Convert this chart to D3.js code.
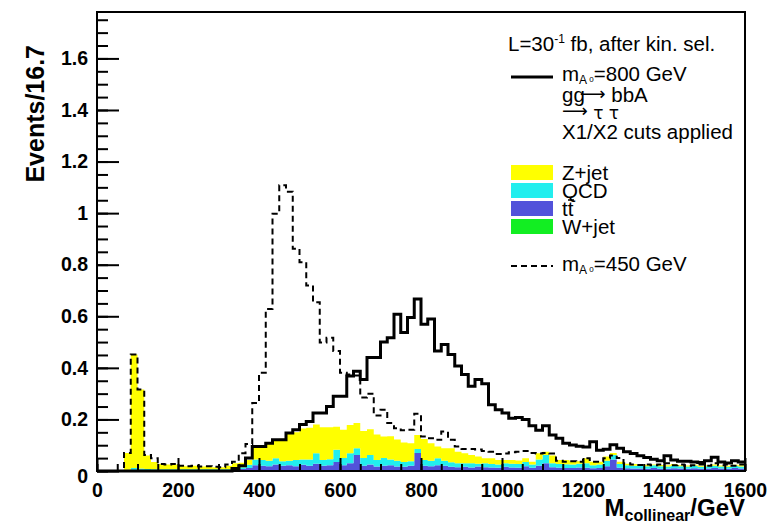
<!DOCTYPE html>
<html>
<head>
<meta charset="utf-8">
<script src="https://cdn.jsdelivr.net/npm/d3@7"></script>
<style>
  html, body { margin: 0; padding: 0; background: #fff; }
  svg { display: block; }
</style>
</head>
<body>
<svg id="chart" width="773" height="524"></svg>
<script>
// M_collinear distribution, 96 bins of 16.7 GeV from 0 to 1600 GeV.
const massMin = 0, massMax = 1600, nBins = 96;

// Signal m_A = 800 GeV (solid line)
const sigA800 = [
  0,0,0,0,0,0,0,0,0,0,
  0,0,0,0,0,0,0,0,0,0,
  0.01,0.02,0.05,0.095,0.095,0.108,0.121,0.121,0.147,0.16,
  0.18,0.192,0.225,0.225,0.25,0.29,0.29,0.368,0.387,0.355,
  0.44,0.44,0.50,0.517,0.608,0.537,0.595,0.667,0.569,0.589,
  0.465,0.491,0.452,0.407,0.374,0.329,0.355,0.338,0.257,0.238,
  0.225,0.205,0.207,0.20,0.175,0.158,0.175,0.14,0.127,0.108,
  0.101,0.096,0.093,0.113,0.08,0.084,0.102,0.088,0.075,0.068,
  0.059,0.052,0.046,0.04,0.059,0.043,0.038,0.038,0.035,0.033,
  0.04,0.053,0.035,0.031,0.04,0.035
];

// Signal m_A = 450 GeV (dashed line)
const sigA450 = [
  0,0,0,0,0.07,0.452,0.316,0.062,0.049,0.027,
  0.025,0.027,0.02,0.018,0.02,0.017,0.018,0.016,0.015,0.025,
  0.036,0.069,0.105,0.264,0.381,0.628,0.998,1.108,1.083,0.862,
  0.81,0.719,0.654,0.498,0.517,0.465,0.381,0.374,0.37,0.285,
  0.30,0.215,0.238,0.186,0.166,0.158,0.16,0.222,0.134,0.127,
  0.121,0.153,0.121,0.095,0.085,0.085,0.083,0.078,0.075,0.066,
  0.068,0.073,0.075,0.078,0.07,0.068,0.07,0.068,0.04,0.036,
  0.038,0.036,0.049,0.036,0.036,0.049,0.06,0.05,0.03,0.025,
  0.023,0.025,0.022,0.025,0.03,0.022,0.025,0.02,0.022,0.025,
  0.02,0.03,0.022,0.025,0.02,0.025
];

// Backgrounds, stacked bottom to top: W+jet, tt, QCD, Z+jet
const wJet = [
  0,0,0,0,0.001,0.001,0.001,0.001,0.001,0.001,
  0.001,0.001,0.001,0.001,0.001,0.001,0.001,0.001,0.001,0.001,
  0.001,0.001,0.004,0.004,0.004,0.004,0.004,0.004,0.004,0.004,
  0.004,0.004,0.004,0.004,0.004,0.004,0.004,0.004,0.004,0.004,
  0.004,0.004,0.004,0.004,0.004,0.004,0.004,0.004,0.004,0.004,
  0.004,0.004,0.004,0.004,0.004,0.004,0.004,0.004,0.004,0.004,
  0.004,0.004,0.004,0.004,0.004,0.004,0.004,0.004,0.004,0.004,
  0.004,0.004,0.004,0.004,0.004,0.004,0.004,0.004,0.004,0.004,
  0.004,0.004,0.004,0.004,0.004,0.004,0.004,0.004,0.004,0.004,
  0.004,0.004,0.004,0.004,0.004,0.004
];

const ttbar = [
  0,0,0,0,0.002,0.004,0.004,0.003,0.003,0.003,
  0.003,0.003,0.003,0.003,0.003,0.003,0.003,0.003,0.003,0.003,
  0.005,0.007,0.008,0.018,0.016,0.014,0.021,0.016,0.018,0.014,
  0.020,0.016,0.024,0.016,0.018,0.031,0.018,0.026,0.058,0.016,
  0.021,0.013,0.016,0.018,0.013,0.012,0.016,0.066,0.016,0.014,
  0.018,0.016,0.012,0.011,0.012,0.010,0.013,0.011,0.010,0.009,
  0.012,0.010,0.009,0.014,0.009,0.016,0.026,0.011,0.009,0.008,
  0.008,0.010,0.009,0.007,0.008,0.014,0.041,0.009,0.007,0.006,
  0.006,0.005,0.008,0.005,0.005,0.007,0.006,0.005,0.007,0.005,
  0.006,0.008,0.006,0.005,0.008,0.006
];

const qcd = [
  0,0,0,0,0.002,0.007,0.005,0.004,0.003,0.003,
  0.003,0.003,0.003,0.003,0.003,0.003,0.003,0.003,0.003,0.003,
  0.004,0.007,0.012,0.023,0.023,0.022,0.024,0.018,0.018,0.025,
  0.021,0.025,0.041,0.023,0.024,0.047,0.028,0.039,0.026,0.030,
  0.037,0.026,0.030,0.023,0.023,0.019,0.018,0.015,0.023,0.022,
  0.027,0.020,0.018,0.015,0.014,0.016,0.011,0.015,0.013,0.012,
  0.014,0.014,0.014,0.017,0.012,0.025,0.032,0.015,0.014,0.014,
  0.013,0.014,0.017,0.011,0.013,0.022,0.017,0.014,0.011,0.010,
  0.010,0.009,0.010,0.009,0.008,0.009,0.008,0.008,0.009,0.007,
  0.008,0.008,0.007,0.007,0.008,0.007
];

const zJet = [
  0,0,0,0,0.065,0.44,0.306,0.052,0.028,0.020,
  0.018,0.018,0.013,0.011,0.013,0.010,0.011,0.008,0.008,0.013,
  0.020,0.017,0.019,0.052,0.052,0.070,0.072,0.087,0.108,0.107,
  0.120,0.123,0.111,0.127,0.124,0.090,0.110,0.109,0.098,0.105,
  0.100,0.099,0.084,0.090,0.082,0.076,0.070,0.055,0.081,0.068,
  0.046,0.048,0.054,0.045,0.039,0.032,0.028,0.019,0.022,0.018,
  0.013,0.015,0.014,0.014,0.011,0.024,0.013,0.030,0.016,0.017,
  0.013,0.010,0.019,0.014,0.011,0.016,0.008,0.009,0.006,0.007,
  0.005,0.006,0.003,0.005,0.005,0.007,0.004,0.004,0.004,0.004,
  0.004,0.005,0.004,0.004,0.004,0.005
];

const xTicks = [0, 200, 400, 600, 800, 1000, 1200, 1400, 1600];
const yTicks = [0, 0.2, 0.4, 0.6, 0.8, 1, 1.2, 1.4, 1.6];

const bkgKeys = ["wJet", "ttbar", "qcd", "zJet"];
const bkgColors = { wJet: "#12ee22", ttbar: "#5252da", qcd: "#22eeee", zJet: "#ffff00" };

// ---------------------------------------------------------------------------
const svg = d3.select("#chart");
const frame = { left: 97, right: 745, top: 12, bottom: 471 };
const x = d3.scaleLinear().domain([massMin, massMax]).range([frame.left, frame.right]);
const y = d3.scaleLinear().domain([0, 1.78]).range([frame.bottom, frame.top]);

const binW = (massMax - massMin) / nBins;
const edges = d3.range(nBins + 1).map(i => massMin + i * binW);

// stacked backgrounds
const rows = d3.range(nBins).map(i => ({
  wJet: wJet[i], ttbar: ttbar[i], qcd: qcd[i], zJet: zJet[i]
}));
const stacked = d3.stack().keys(bkgKeys)(rows);

const stepArea = d3.area()
  .x(d => x(d.e)).y0(d => y(d.lo)).y1(d => y(d.hi))
  .curve(d3.curveStepAfter);

const plot = svg.append("g");
stacked.forEach(layer => {
  const pts = layer.map((d, i) => ({ e: edges[i], lo: d[0], hi: d[1] }));
  const last = layer[nBins - 1];
  pts.push({ e: edges[nBins], lo: last[0], hi: last[1] });
  plot.append("path")
    .attr("d", stepArea(pts))
    .attr("fill", bkgColors[layer.key])
    .attr("stroke", "none");
});

// signal histograms as step outlines
const stepLine = d3.line().x(d => x(d.e)).y(d => y(d.v)).curve(d3.curveStepAfter);
function histPts(vals) {
  const p = vals.map((v, i) => ({ e: edges[i], v }));
  p.push({ e: edges[nBins], v: vals[nBins - 1] });
  return p;
}
plot.append("path")
  .attr("d", stepLine(histPts(sigA800)))
  .attr("fill", "none").attr("stroke", "#000").attr("stroke-width", 3)
  .attr("stroke-linejoin", "miter");
plot.append("path")
  .attr("d", stepLine(histPts(sigA450)))
  .attr("fill", "none").attr("stroke", "#000").attr("stroke-width", 2)
  .attr("stroke-dasharray", "6,4");

// ---------------------------------------------------------------------------
// axes (ticks point into the frame)
const tickFont = "'Liberation Sans', Arial, Helvetica, sans-serif";

const xMinor = svg.append("g").attr("transform", `translate(0,${frame.bottom})`)
  .call(d3.axisBottom(x).tickValues(d3.range(0, 1601, 50)).tickSize(-7).tickFormat(""));
const xMajor = svg.append("g").attr("transform", `translate(0,${frame.bottom})`)
  .call(d3.axisBottom(x).tickValues(xTicks).tickSize(-13).tickPadding(12).tickFormat(d3.format("d")));
const yMinor = svg.append("g").attr("transform", `translate(${frame.left},0)`)
  .call(d3.axisLeft(y).tickValues(d3.range(0, 1.76, 0.05)).tickSize(-11).tickFormat(""));
const yMajor = svg.append("g").attr("transform", `translate(${frame.left},0)`)
  .call(d3.axisLeft(y).tickValues(yTicks).tickSize(-22).tickPadding(9).tickFormat(d => d3.format("~g")(d)));

[xMinor, xMajor, yMinor, yMajor].forEach(g => {
  g.select(".domain").remove();
  g.selectAll(".tick line").attr("stroke", "#000").attr("stroke-width", 2);
  g.selectAll(".tick text")
    .attr("font-family", tickFont).attr("font-weight", "bold")
    .attr("font-size", 19.5).attr("fill", "#000");
});
xMajor.selectAll(".tick text").attr("dy", "0.72em");
yMajor.selectAll(".tick text").filter(d => d === 0).attr("dy", "0.6em");

// frame
svg.append("rect")
  .attr("x", frame.left).attr("y", frame.top)
  .attr("width", frame.right - frame.left).attr("height", frame.bottom - frame.top)
  .attr("fill", "none").attr("stroke", "#000").attr("stroke-width", 2);

// axis titles
svg.append("text")
  .attr("transform", "translate(44,45) rotate(-90)")
  .attr("text-anchor", "end")
  .attr("font-family", tickFont).attr("font-weight", "bold").attr("font-size", 25)
  .text("Events/16.7");

const xt = svg.append("text")
  .attr("x", 745).attr("y", 516).attr("text-anchor", "end")
  .attr("font-family", tickFont).attr("font-weight", "bold").attr("font-size", 24);
xt.append("tspan").text("M");
xt.append("tspan").attr("font-size", 16).attr("dy", 5).text("collinear");
xt.append("tspan").attr("dy", -5).text("/GeV");

// ---------------------------------------------------------------------------
// legend
const lg = svg.append("g")
  .attr("font-family", tickFont).attr("font-size", 20.5).attr("fill", "#000");
const lx0 = 511, lx1 = 553, tx = 562;
const arrowFont = "'DejaVu Sans', sans-serif";

const head = lg.append("text").attr("x", 508).attr("y", 51);
head.append("tspan").text("L=30");
head.append("tspan").attr("font-size", 12).attr("dy", -8).text("-1");
head.append("tspan").attr("dy", 8).text(" fb, after kin. sel.");

function massLabel(yb, mass) {
  const t = lg.append("text").attr("x", tx).attr("y", yb);
  t.append("tspan").text("m");
  t.append("tspan").attr("font-size", 12).attr("dy", 3).text("A");
  t.append("tspan").attr("font-size", 8).attr("dy", -2).text(" 0");
  t.append("tspan").attr("dy", -1).text("=" + mass + " GeV");
}

lg.append("line").attr("x1", lx0).attr("x2", lx1).attr("y1", 77).attr("y2", 77)
  .attr("stroke", "#000").attr("stroke-width", 3);
massLabel(81, 800);
const gg = lg.append("text").attr("x", tx).attr("y", 102);
gg.append("tspan").text("gg");
gg.append("tspan").attr("font-family", arrowFont).attr("font-size", 18).attr("dx", -5).attr("dy", -2).text("\u27f6");
gg.append("tspan").attr("dy", 2).text(" bbA");
const tau = lg.append("text").attr("x", tx).attr("y", 119);
tau.append("tspan").attr("font-family", arrowFont).attr("font-size", 18).attr("dy", -2).text("\u27f6");
tau.append("tspan").attr("font-family", arrowFont).attr("font-size", 17).attr("dy", 2).text(" \u03c4 \u03c4");
lg.append("text").attr("x", tx).attr("y", 139).text("X1/X2 cuts applied");

const bkgLegend = [
  { key: "zJet", label: "Z+jet", y: 165 },
  { key: "qcd", label: "QCD", y: 183 },
  { key: "ttbar", label: "tt", y: 201 },
  { key: "wJet", label: "W+jet", y: 219 }
];
bkgLegend.forEach(d => {
  lg.append("rect").attr("x", lx0).attr("y", d.y).attr("width", lx1 - lx0).attr("height", 15)
    .attr("fill", bkgColors[d.key]);
  lg.append("text").attr("x", tx).attr("y", d.y + 15).text(d.label);
});
// bar over the second t of "tt"
lg.append("line").attr("x1", 568).attr("x2", 574).attr("y1", 200).attr("y2", 200)
  .attr("stroke", "#000").attr("stroke-width", 1.5);

lg.append("line").attr("x1", lx0).attr("x2", lx1).attr("y1", 266).attr("y2", 266)
  .attr("stroke", "#000").attr("stroke-width", 2).attr("stroke-dasharray", "6,4");
massLabel(271, 450);
</script>
</body>
</html>
